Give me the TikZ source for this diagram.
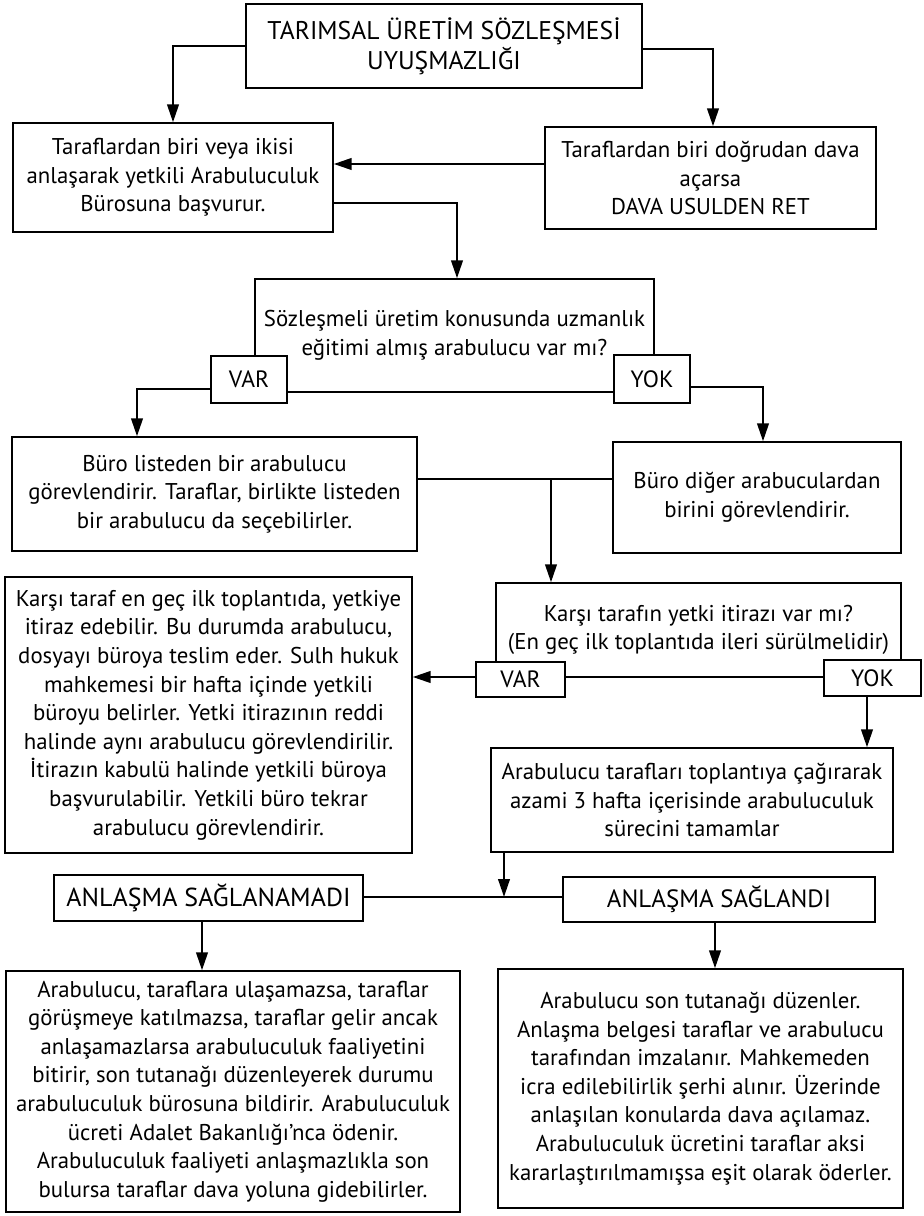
\documentclass[tikz,border=0pt]{standalone}
\usepackage{fontspec}
\setmainfont{PT Sans}
\usetikzlibrary{arrows.meta,calc}
\tikzstyle{box}=[draw, line width=0.65pt, align=center, inner sep=0pt, font=\fontsize{11.4}{14.3}\selectfont]
\tikzstyle{tag}=[box, fill=white, font=\fontsize{12.5}{15}\selectfont]
\tikzstyle{link}=[line width=1.25pt]
\tikzstyle{arr}=[link, -{Triangle[width=5.75pt,length=9pt]}]

\begin{document}
\begin{tikzpicture}[x=0.5pt,y=-0.5pt]
\useasboundingbox (0,0) rectangle (924,1216);
\node[box, minimum width=198pt, minimum height=42pt, font=\fontsize{12.8}{15}\selectfont] (start) at (444,46) {TARIMSAL ÜRETİM SÖZLEŞMESİ\\UYUŞMAZLIĞI};
\node[box, minimum width=160pt, minimum height=54.5pt] (apply) at (173,177.5) {Taraflardan biri veya ikisi\\anlaşarak yetkili Arabuluculuk\\Bürosuna başvurur.};
\node[box, minimum width=165.5pt, minimum height=51pt] (direct) at (710.5,178) {Taraflardan biri doğrudan dava\\açarsa\\DAVA USULDEN RET};
\node[box, minimum width=199.5pt, minimum height=56.5pt] (expert) at (454.5,335.5) {Sözleşmeli üretim konusunda uzmanlık\\eğitimi almış arabulucu var mı?};
\node[tag, minimum width=38pt, minimum height=23.5pt, font=\fontsize{11.8}{14}\selectfont] (var1) at (249,379.5) {VAR};
\node[tag, minimum width=38pt, minimum height=24pt, font=\fontsize{11.8}{14}\selectfont] (yok1) at (652,379) {YOK};
\node[box, minimum width=202.5pt, minimum height=57pt] (list) at (214.5,494) {Büro listeden bir arabulucu\\görevlendirir. Taraflar, birlikte listeden\\bir arabulucu da seçebilirler.};
\node[box, minimum width=144pt, minimum height=55.5pt] (other) at (757,497.5) {Büro diğer arabuculardan\\birini görevlendirir.};
\node[box, minimum width=203.5pt, minimum height=138pt] (reject) at (208.5,715) {Karşı taraf en geç ilk toplantıda, yetkiye\\itiraz edebilir. Bu durumda arabulucu,\\dosyayı büroya teslim eder. Sulh hukuk\\mahkemesi bir hafta içinde yetkili\\büroyu belirler. Yetki itirazının reddi\\halinde aynı arabulucu görevlendirilir.\\İtirazın kabulü halinde yetkili büroya\\başvurulabilir. Yetkili büro tekrar\\arabulucu görevlendirir.};
\node[box, minimum width=202.5pt, minimum height=47pt] (ask) at (698.5,630) {Karşı tarafın yetki itirazı var mı?\\(En geç ilk toplantıda ileri sürülmelidir)};
\node[tag, minimum width=44.5pt, minimum height=17.5pt, font=\fontsize{11.8}{14}\selectfont] (var2) at (520.5,679.5) {VAR};
\node[tag, minimum width=48.5pt, minimum height=18pt, font=\fontsize{11.8}{14}\selectfont] (yok2) at (872.5,678) {YOK};
\node[box, minimum width=201pt, minimum height=52pt] (meet) at (692,800) {Arabulucu tarafları toplantıya çağırarak\\azami 3 hafta içerisinde arabuluculuk\\sürecini tamamlar};
\node[tag, minimum width=154.5pt, minimum height=23pt, font=\fontsize{13}{15}\selectfont] (fail) at (208.5,898) {ANLAŞMA SAĞLANAMADI};
\node[tag, minimum width=156pt, minimum height=22.5pt] (done) at (719,899.5) {ANLAŞMA SAĞLANDI};
\node[box, minimum width=227pt, minimum height=120.5pt] (failtxt) at (233,1091.5) {Arabulucu, taraflara ulaşamazsa, taraflar\\görüşmeye katılmazsa, taraflar gelir ancak\\anlaşamazlarsa arabuluculuk faaliyetini\\bitirir, son tutanağı düzenleyerek durumu\\arabuluculuk bürosuna bildirir. Arabuluculuk\\ücreti Adalet Bakanlığı’nca ödenir.\\Arabuluculuk faaliyeti anlaşmazlıkla son\\bulursa taraflar dava yoluna gidebilirler.};
\node[box, minimum width=202.5pt, minimum height=119.5pt] (donetxt) at (700.5,1088.5) {Arabulucu son tutanağı düzenler.\\Anlaşma belgesi taraflar ve arabulucu\\tarafından imzalanır. Mahkemeden\\icra edilebilirlik şerhi alınır. Üzerinde\\anlaşılan konularda dava açılamaz.\\Arabuluculuk ücretini taraflar aksi\\kararlaştırılmamışsa eşit olarak öderler.};
\coordinate (j1) at (551,479);
\coordinate (j2) at (504,897);
\draw[arr] (start.west) -| (apply.north);
\draw[arr] ([yshift=-1.5pt]start.east) -| ([xshift=1.25pt]direct.north);
\draw[arr] ([yshift=7pt]direct.west) -- ([yshift=7pt]direct.west -| apply.east);
\draw[arr] ([yshift=-12.75pt]apply.east) -| ([xshift=1.25pt]expert.north);
\draw[arr] ([yshift=-4.75pt]var1.west) -| ([xshift=-38.75pt]list.north);
\draw[arr] ([yshift=-4pt]yok1.east) -| ([xshift=3pt]other.north);
\draw[link] ([yshift=7.5pt]list.east) -- ([yshift=7.5pt]list.east -| other.west);
\draw[arr] (j1) -- (j1 |- ask.north);
\draw[arr] ([yshift=1.25pt]var2.west) -- ([yshift=1.25pt]var2.west -| reject.east);
\draw[arr] ([xshift=-2.75pt]yok2.south) -- ([xshift=-2.75pt]yok2.south |- meet.north);
\draw[link] ([yshift=0.5pt]fail.east) -- ([yshift=0.5pt]fail.east -| done.west);
\draw[arr] (j2 |- meet.south) -- (j2);
\draw[arr] ([xshift=-3.25pt]fail.south) -- ([xshift=-3.25pt]fail.south |- failtxt.north);
\draw[arr] ([xshift=-2pt]done.south) -- ([xshift=-2pt]done.south |- donetxt.north);
\end{tikzpicture}
\end{document}
